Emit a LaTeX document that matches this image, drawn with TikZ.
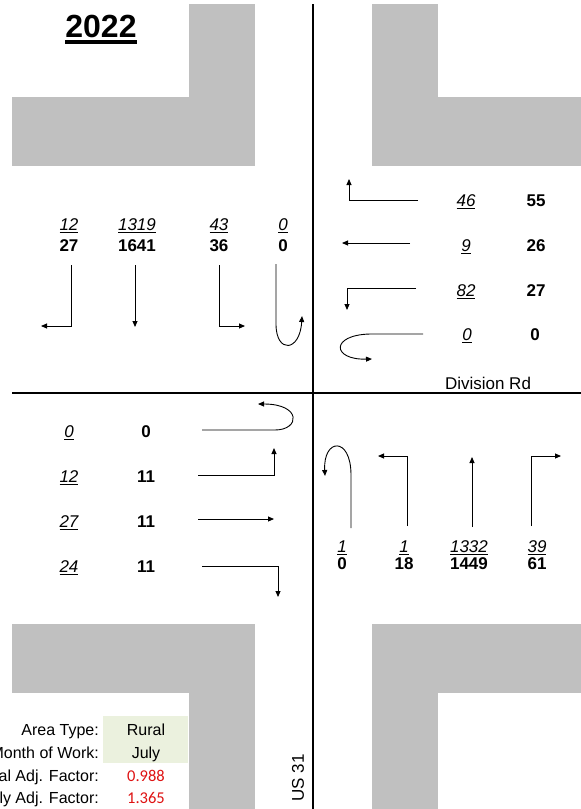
\documentclass[tikz,border=0pt]{standalone}
\usepackage{fontspec}
\setmainfont{Liberation Sans}
\newfontfamily\calfont{Carlito}
\usetikzlibrary{arrows.meta}
\definecolor{roadgray}{RGB}{192,192,192}
\definecolor{cellgreen}{RGB}{235,241,222}
\definecolor{factred}{RGB}{222,18,18}
\newcommand\ulbox[1]{\setbox0\hbox{\itshape #1}\rlap{\rule[-2.9pt]{\wd0}{1.4pt}}\box0}
\tikzset{
  txt/.style={font=\fontsize{17}{20}\selectfont, inner sep=0pt, anchor=base},
  tab/.style={font=\fontsize{16}{19}\selectfont, inner sep=0pt, anchor=base},
  vol/.style={txt},
  adj/.style={txt, font=\fontsize{17}{20}\selectfont\bfseries},
  mv/.style={line width=0.9pt, -{Triangle[length=6pt,width=5pt]}},
  road/.style={line width=2pt},
}
\begin{document}
\begin{tikzpicture}[x=1pt,y=-1pt]
\useasboundingbox (0,0) rectangle (581,809);
% gray corners
\fill[roadgray] (189,4) rectangle (255,97);
\fill[roadgray] (12,97) rectangle (255,166);
\fill[roadgray] (372,4) rectangle (438,97);
\fill[roadgray] (372,97) rectangle (581,166);
\fill[roadgray] (12,624) rectangle (255,693);
\fill[roadgray] (189,693) rectangle (255,809);
\fill[roadgray] (372,624) rectangle (581,693);
\fill[roadgray] (372,693) rectangle (438,809);
\fill[cellgreen] (103,716) rectangle (188,763);
% roads
\draw[road] (313,4) -- (313,809);
\draw[road] (12,393) -- (581,393);
% title
\node[txt, font=\fontsize{32}{36}\selectfont\bfseries] (title) at (101,37) {2022};
\draw[line width=3.6pt] ([yshift=-5.2pt]title.base west) -- ([yshift=-5.2pt]title.base east);
% NW approach (southbound)
\node[vol] (s1) at (69,230) {\ulbox{12}};
\node[vol] (s2) at (137,230) {\ulbox{1319}};
\node[vol] (s3) at (219,230) {\ulbox{43}};
\node[vol] (s4) at (283,230) {\ulbox{0}};
\node[adj] (s1b) at (69,251) {27};
\node[adj] (s2b) at (137,251) {1641};
\node[adj] (s3b) at (219,251) {36};
\node[adj] (s4b) at (283,251) {0};
\draw[mv] (71,265) -- (71,326) -- (41,326);
\draw[mv] (135,265) -- (135,327);
\draw[mv] (219,265) -- (219,326) -- (245,326);
\draw[mv] (276,264) -- (276,324) .. controls (276,354) and (300,352) .. (302,316);
% E approach (westbound)
\node[vol] (w1) at (466,206) {\ulbox{46}};
\node[vol] (w2) at (466,251) {\ulbox{9}};
\node[vol] (w3) at (466,296) {\ulbox{82}};
\node[vol] (w4) at (467,340) {\ulbox{0}};
\node[adj] (w1b) at (536,206) {55};
\node[adj] (w2b) at (536,251) {26};
\node[adj] (w3b) at (536,296) {27};
\node[adj] (w4b) at (535,340) {0};
\draw[mv] (418,200) -- (349,200) -- (349,179);
\draw[mv] (410,243) -- (342,243);
\draw[mv] (416,288) -- (347,288) -- (347,310);
\draw[mv] (423,334) -- (370,334) .. controls (330,335) and (332,360) .. (372,359);
\node[txt] (divrd) at (488,389) {Division Rd};
% SW approach (eastbound)
\node[vol] (e1) at (69,437) {\ulbox{0}};
\node[vol] (e2) at (69,482) {\ulbox{12}};
\node[vol] (e3) at (69,527) {\ulbox{27}};
\node[vol] (e4) at (69,572) {\ulbox{24}};
\node[adj] (e1b) at (146,437) {0};
\node[adj] (e2b) at (146,482) {11};
\node[adj] (e3b) at (146,527) {11};
\node[adj] (e4b) at (146,572) {11};
\draw[mv] (202,430) -- (275,430) .. controls (300,430) and (302,404) .. (258,404);
\draw[mv] (198,475) -- (274,475) -- (274,448);
\draw[mv] (198,519) -- (274,519);
\draw[mv] (202,566) -- (278,566) -- (278,597);
% SE approach (northbound)
\node[vol] (n1) at (342,552) {\ulbox{1}};
\node[vol] (n2) at (404,552) {\ulbox{1}};
\node[vol] (n3) at (469,552) {\ulbox{1332}};
\node[vol] (n4) at (537,552) {\ulbox{39}};
\node[adj] (n1b) at (342,569) {0};
\node[adj] (n2b) at (404,569) {18};
\node[adj] (n3b) at (469,569) {1449};
\node[adj] (n4b) at (537,569) {61};
\draw[mv] (351,528) -- (351,475) .. controls (351,436) and (323,438) .. (325,476);
\draw[mv] (407,526) -- (407,456) -- (378,456);
\draw[mv] (472,527) -- (472,457);
\draw[mv] (531,526) -- (531,456) -- (561,456);
% US 31
\node[txt, anchor=center, rotate=90] (us31) at (298,778) {US 31};
% info table
\node[tab, anchor=base east] (l1) at (99,735) {Area Type:};
\node[tab, anchor=base east] (l2) at (99,758) {Month of Work:};
\node[tab, anchor=base east] (l3) at (99,781) {Seasonal Adj. Factor:};
\node[tab, anchor=base east] (l4) at (99,803) {Daily Adj. Factor:};
\node[tab] (v1) at (146,735) {Rural};
\node[tab] (v2) at (146,758) {July};
\node[tab, font=\fontsize{16.5}{19}\calfont, text=factred] (v3) at (146,781) {0.988};
\node[tab, font=\fontsize{16.5}{19}\calfont, text=factred] (v4) at (146,803) {1.365};
\end{tikzpicture}
\end{document}
